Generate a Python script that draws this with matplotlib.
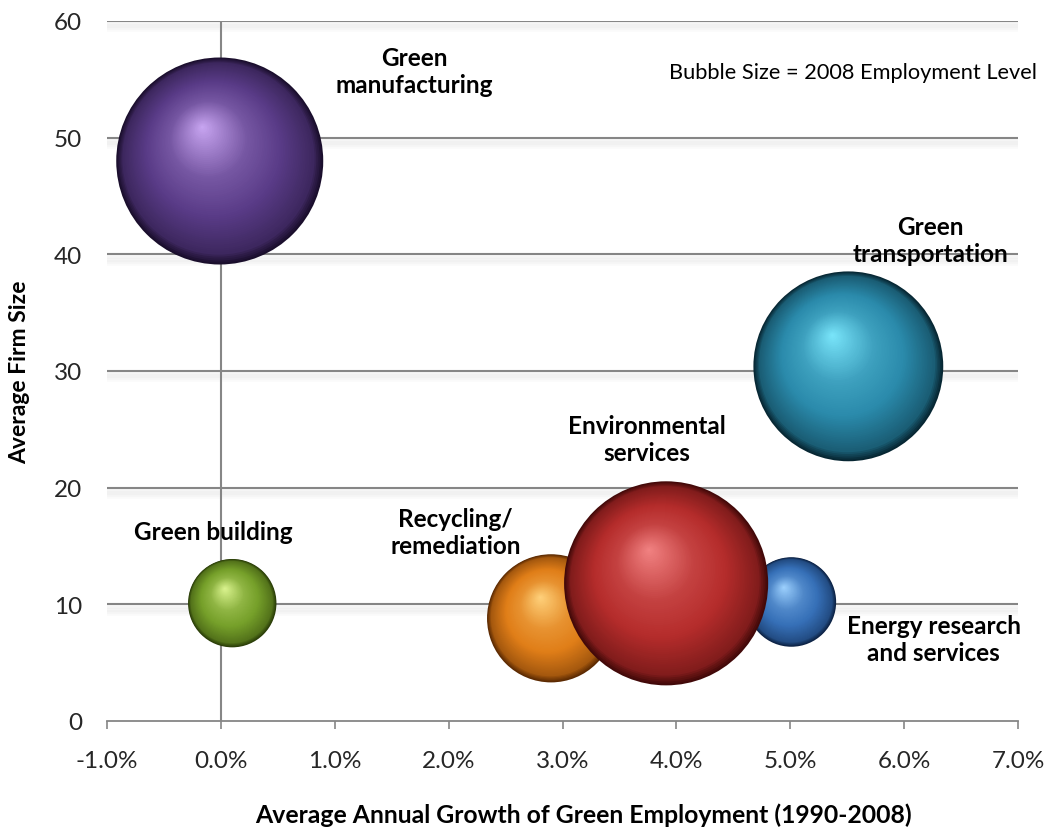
import numpy as np
import matplotlib.pyplot as plt
import matplotlib.colors as mcolors
import matplotlib.patheffects as pe
from matplotlib.transforms import ScaledTranslation
from matplotlib.ticker import PercentFormatter

plt.rcParams['font.family'] = ['Lato', 'DejaVu Sans']
plt.rcParams['axes.unicode_minus'] = False

# data
sectors = ['Green manufacturing', 'Green transportation', 'Green building',
           'Recycling/remediation', 'Energy research and services', 'Environmental services']
growth = [-0.0001, 0.0551, 0.0010, 0.0290, 0.0501, 0.0391]      # avg annual growth 1990-2008
firm_size = [48.0, 30.4, 10.1, 8.8, 10.2, 11.8]                 # average firm size
employment_2008 = [10700, 9000, 1950, 4100, 2000, 10400]         # relative employment level (bubble area)

labels = ['Green\nmanufacturing', 'Green\ntransportation', 'Green building',
          'Recycling/\nremediation', 'Energy research\nand services', 'Environmental\nservices']
label_x = [0.0170, 0.0623, -0.0007, 0.0206, 0.0626, 0.0374]
label_y = [55.7, 41.2, 16.2, 16.2, 7.0, 24.2]

# (edge, base, highlight)
palettes = [('#1a0e2c', '#5a3c88', '#c9a6f2'),
            ('#072733', '#2a8aab', '#7ae6fb'),
            ('#2a3d08', '#76a02a', '#dcf590'),
            ('#5c2a02', '#e07e18', '#ffd27c'),
            ('#0c2244', '#3670b8', '#9ed2ff'),
            ('#420909', '#b52c2b', '#f28383')]

xticks = np.arange(-0.01, 0.0701, 0.01)
yticks = np.arange(0, 61, 10)


def mix(a, b, f):
    a, b = np.array(mcolors.to_rgb(a)), np.array(mcolors.to_rgb(b))
    return tuple(a + (b - a) * f)


fig = plt.figure(figsize=(10.5, 8.28), dpi=100)
ax = fig.add_axes([107 / 1050, 1 - 722 / 828, 911 / 1050, 700 / 828])
ax.set_xlim(-0.01, 0.07)
ax.set_ylim(0, 60)

grid_col = '#868686'
shadow = [pe.SimpleLineShadow(offset=(0, -k), shadow_color='#000000', alpha=0.018, linewidth=4)
          for k in (1.5, 3, 4.5, 6)] + [pe.Normal()]
ax.hlines(yticks[1:], -0.01, 0.07, color=grid_col, lw=1.5, zorder=1, path_effects=shadow)
ax.vlines(0, 0, 60, color=grid_col, lw=1.5, zorder=1)

for sp in ['top', 'right', 'left']:
    ax.spines[sp].set_visible(False)
ax.spines['bottom'].set_color(grid_col)
ax.spines['bottom'].set_linewidth(1.3)

# spheres: nested circles shifted toward the highlight
s_max = (2 * 103.5 * 0.72) ** 2
scale = s_max / max(employment_2008)
n_layers = 70
for x, y, e, (c0, c1, c2) in zip(growth, firm_size, employment_2008, palettes):
    s = e * scale
    r_pt = np.sqrt(s) / 2
    cmap = mcolors.LinearSegmentedColormap.from_list(
        'sph', [(0, c0), (0.07, mix(c0, c1, 0.55)), (0.35, c1), (0.62, mix(c1, c2, 0.25)),
                (0.85, mix(c1, c2, 0.7)), (1.0, c2)])
    for i in range(n_layers):
        t = i / n_layers
        dx = -0.17 * r_pt * t / 72
        dy = 0.33 * r_pt * t / 72
        tr = ax.transData + ScaledTranslation(dx, dy, fig.dpi_scale_trans)
        ax.scatter([x], [y], s=s * (1 - t) ** 2, color=cmap(t), transform=tr,
                   edgecolors='none', zorder=3, clip_on=False)

for txt, lx, ly in zip(labels, label_x, label_y):
    ax.text(lx, ly, txt, ha='center', va='center', fontsize=17.5, fontweight='bold',
            color='#000000', linespacing=1.2, zorder=5)

ax.text(0.07165, 55.6, 'Bubble Size = 2008 Employment Level', ha='right', va='center',
        fontsize=15.7, color='#000000', zorder=5)

ax.set_xticks(xticks)
ax.set_yticks(yticks)
ax.xaxis.set_major_formatter(PercentFormatter(xmax=1, decimals=1))
ax.tick_params(axis='x', direction='out', length=6, width=1.2, color=grid_col,
               labelsize=17.5, labelcolor='#262626', pad=15)
ax.tick_params(axis='y', length=0, labelsize=17.5, labelcolor='#262626', pad=18)

ax.set_xlabel('Average Annual Growth of Green Employment (1990-2008)', fontsize=17.8,
              fontweight='bold')
ax.xaxis.set_label_coords(0.5225, -0.117)
ax.set_ylabel('Average Firm Size', fontsize=16.5, fontweight='bold', labelpad=17)

fig.savefig('out.png', dpi=100)
